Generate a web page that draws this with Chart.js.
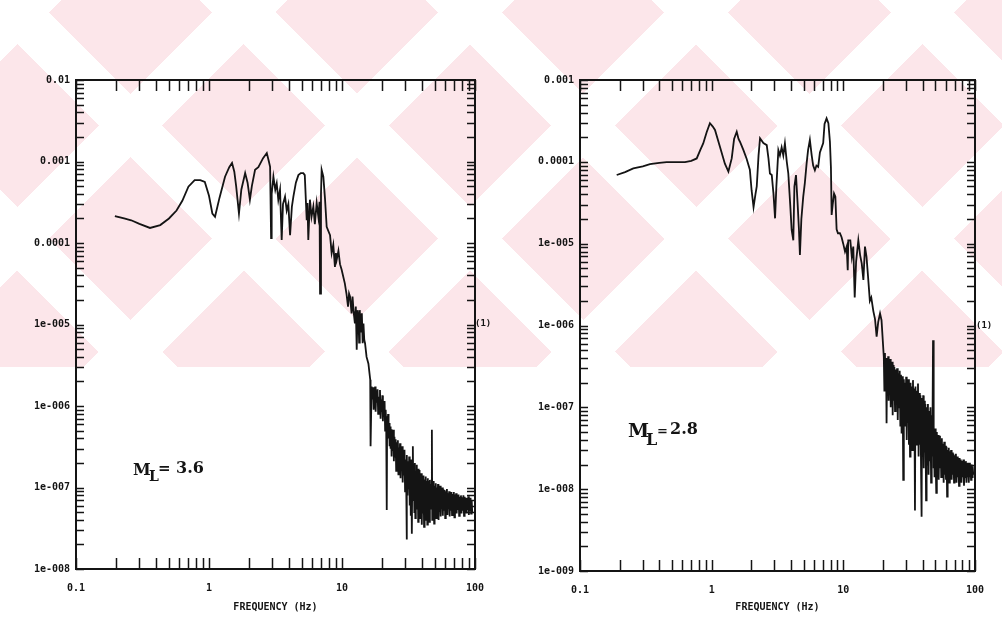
<!DOCTYPE html>
<html>
<head>
<meta charset="utf-8">
<script src="https://cdn.jsdelivr.net/npm/chart.js@4.4.1/dist/chart.umd.min.js"></script>
<style>
  body { margin: 0; background: #fff; width: 1002px; height: 621px; overflow: hidden; position: relative; }
  #mark { position: absolute; left: 0; top: 0; width: 1002px; height: 367px;
    background-color: #fce6ea;
    background-image:
      repeating-linear-gradient(45deg, rgba(255,255,255,0) 0 80.5px, #fff 80.5px 125.5px, rgba(255,255,255,0) 125.5px 160px),
      repeating-linear-gradient(-45deg, #fff 0 9.5px, rgba(255,255,255,0) 9.5px 124.5px, #fff 124.5px 160px); }
  canvas { position: absolute; top: 0; }
  #leftChart { left: 0; }
  #rightChart { left: 500px; }
  .t { position: absolute; font-family: "DejaVu Serif", serif; font-weight: bold; color: #141414; line-height: 1; white-space: nowrap; }
  .one { font-family: "DejaVu Sans Mono", monospace; font-size: 9px; }
</style>
</head>
<body>
<div id="mark"></div>
<canvas id="leftChart" width="500" height="621"></canvas>
<canvas id="rightChart" width="502" height="621"></canvas>

<span class="t one" style="left:475px;top:319px">(1)</span>
<span class="t one" style="left:976px;top:321px">(1)</span>

<span class="t" style="left:133px;top:462px;font-size:16px">M</span>
<span class="t" style="left:149px;top:469px;font-size:14px">L</span>
<span class="t" style="left:158px;top:461px;font-size:15px">=</span>
<span class="t" style="left:176px;top:460px;font-size:16px">3.6</span>

<span class="t" style="left:628px;top:421px;font-size:19px">M</span>
<span class="t" style="left:646px;top:432px;font-size:16px">L</span>
<span class="t" style="left:657px;top:424px;font-size:13px">=</span>
<span class="t" style="left:670px;top:421px;font-size:16px">2.8</span>

<script>
// tick labels
var xTickValues = [0.1, 1, 10, 100];
var xTickLabels = ['0.1', '1', '10', '100'];
var leftYValues = [1e-8, 1e-7, 1e-6, 1e-5, 1e-4, 1e-3, 1e-2];
var leftYLabels = ['1e-008', '1e-007', '1e-006', '1e-005', '0.0001', '0.001', '0.01'];
var rightYValues = [1e-9, 1e-8, 1e-7, 1e-6, 1e-5, 1e-4, 1e-3];
var rightYLabels = ['1e-009', '1e-008', '1e-007', '1e-006', '1e-005', '0.0001', '0.001'];

// spectrum, M_L = 3.6  [frequency Hz, amplitude]
var leftSpectrum = [
  [0.196,2.14e-4],[0.23,2.0e-4],[0.26,1.9e-4],[0.3,1.72e-4],[0.36,1.53e-4],[0.43,1.66e-4],[0.5,2.0e-4],
  [0.57,2.5e-4],[0.63,3.3e-4],[0.7,4.9e-4],[0.78,5.9e-4],[0.86,5.9e-4],[0.93,5.6e-4],[1.0,3.8e-4],
  [1.06,2.3e-4],[1.11,2.1e-4],[1.2,3.6e-4],[1.32,6.5e-4],[1.42,8.5e-4],[1.49,9.6e-4],[1.55,7.5e-4],
  [1.6,5.0e-4],[1.68,2.3e-4],[1.75,4.5e-4],[1.87,7.2e-4],[1.95,5.5e-4],[2.03,3.4e-4],[2.1,5.0e-4],
  [2.22,7.9e-4],[2.35,8.5e-4],[2.55,1.1e-3],[2.72,1.27e-3],[2.82,1.0e-3],[2.88,8.6e-4],[2.93,1.15e-4],
  [2.96,4.0e-4],[3.05,6.5e-4],[3.15,4.5e-4],[3.23,5.4e-4],[3.32,3.4e-4],[3.42,4.5e-4],[3.52,1.09e-4],
  [3.6,3.0e-4],[3.73,3.7e-4],[3.84,2.5e-4],[3.95,3.0e-4],[4.07,1.25e-4],[4.2,2.8e-4],[4.31,3.7e-4],
  [4.5,5.5e-4],[4.7,6.8e-4],[4.9,7.2e-4],[5.12,7.2e-4],[5.25,6.8e-4],[5.43,1.9e-4],[5.5,3.1e-4],
  [5.58,1.09e-4],[5.74,3.4e-4],[5.9,2.1e-4],[6.09,2.8e-4],[6.25,1.7e-4],[6.45,3.1e-4],[6.64,2.1e-4],
  [6.78,3.2e-4],[6.84,2.4e-5],[6.95,4.0e-4],[7.03,7.9e-4],[7.24,6.5e-4],[7.45,3.5e-4],[7.67,1.58e-4],
  [8.13,1.25e-4],[8.36,7.5e-5],[8.6,9.5e-5],[8.85,5.1e-5],[9.0,7.5e-5],[9.12,6.2e-5],[9.4,8.0e-5],
  [9.66,5.5e-5],[9.94,4.7e-5],[10.5,3.2e-5],[10.8,2.4e-5],[11.1,1.66e-5],[11.3,2.4e-5],[11.5,2.2e-5],
  [11.8,1.37e-5],[12.0,2.2e-5],[12.2,1.5e-5],[12.5,1.03e-5],[12.7,1.66e-5],[12.9,4.9e-6],[13.1,1.5e-5],
  [13.3,1.25e-5],[13.45,6.0e-6],[13.6,1.5e-5],[13.85,8.0e-6],[14.1,1.37e-5],[14.3,5.9e-6],[14.5,1.03e-5],
  [14.7,6.5e-6],[14.9,5.9e-6],[15.3,4.0e-6],[15.8,3.3e-6],[16.3,2.1e-6],[16.4,3.2e-7],[16.7,1.73e-6],
  [17.0,1.2e-6],[17.15,1.7e-6],[17.3,9.0e-7],[17.45,1.4e-6],[17.6,1.0e-6],[17.75,1.73e-6],[17.9,8.5e-7],
  [18.1,1.5e-6],[18.3,1.1e-6],[18.5,1.6e-6],[18.7,8.0e-7],[18.9,1.3e-6],[19.1,9.5e-7],[19.3,1.57e-6],
  [19.5,7.0e-7],[19.7,1.2e-6],[19.9,8.5e-7],[20.1,1.35e-6],[20.3,6.5e-7],[20.5,1.1e-6],[20.7,7.5e-7],
  [20.9,1.15e-6],[21.1,5.0e-7],[21.3,9.0e-7],[21.5,5.5e-7],[21.7,5.3e-8],[21.85,7.5e-7],[22.0,4.5e-7],
  [22.2,8.0e-7],[22.4,4.0e-7],[22.6,6.2e-7],[22.8,3.2e-7],[23.0,5.6e-7],[23.2,3.0e-7],[23.4,5.2e-7],
  [23.6,2.4e-7],[23.8,4.6e-7],[24.0,2.8e-7],[24.3,5.1e-7],[24.55,2.1e-7],[24.8,4.2e-7],[25.05,2.4e-7],
  [25.3,3.9e-7],[25.55,1.6e-7],[25.8,3.6e-7],[26.05,2.0e-7],[26.3,3.8e-7],[26.55,1.45e-7],[26.8,3.1e-7],
  [27.05,1.8e-7],[27.3,3.5e-7],[27.55,1.3e-7],[27.8,2.9e-7],[28.05,1.6e-7],[28.3,3.2e-7],[28.6,1.15e-7],
  [28.9,2.7e-7],[29.2,1.4e-7],[29.5,2.9e-7],[29.8,9.0e-8],[30.1,2.2e-7],[30.4,1.1e-7],[30.6,2.3e-8],
  [30.8,2.5e-7],[31.1,8.0e-8],[31.4,2.1e-7],[31.7,9.5e-8],[32.0,2.4e-7],[32.3,6.0e-8],[32.6,1.9e-7],
  [32.9,4.5e-8],[33.2,2.2e-7],[33.5,2.7e-8],[33.8,1.8e-7],[34.1,3.2e-7],[34.4,7.0e-8],[34.7,1.9e-7],
  [35.0,5.0e-8],[35.3,2.0e-7],[35.6,4.2e-8],[35.9,1.6e-7],[36.2,6.5e-8],[36.5,1.9e-7],[36.8,5.5e-8],
  [37.1,1.5e-7],[37.4,3.8e-8],[37.7,1.7e-7],[38.0,6.0e-8],[38.3,1.64e-7],[38.6,4.2e-8],[38.9,1.4e-7],
  [39.2,5.5e-8],[39.5,1.5e-7],[39.8,3.5e-8],[40.2,1.3e-7],[40.6,4.8e-8],[41.0,1.4e-7],[41.4,3.3e-8],
  [41.8,1.25e-7],[42.2,5.5e-8],[42.6,1.36e-7],[43.0,4.0e-8],[43.4,1.2e-7],[43.8,3.5e-8],[44.2,1.3e-7],
  [44.6,5.0e-8],[45.0,1.2e-7],[45.4,3.8e-8],[45.8,1.24e-7],[46.2,5.5e-8],[46.6,1.1e-7],[47.0,6.0e-8],
  [47.4,5.1e-7],[47.7,4.0e-8],[48.1,1.15e-7],[48.5,4.5e-8],[48.9,1.2e-7],[49.3,3.6e-8],[49.7,1.05e-7],
  [50.2,5.0e-8],[50.7,1.13e-7],[51.2,4.2e-8],[51.7,1.0e-7],[52.2,5.5e-8],[52.7,1.1e-7],[53.2,4.0e-8],
  [53.7,9.5e-8],[54.2,5.0e-8],[54.7,1.05e-7],[55.2,4.4e-8],[55.7,9.0e-8],[56.2,5.5e-8],[56.7,1.0e-7],
  [57.3,4.5e-8],[57.9,9.5e-8],[58.5,5.3e-8],[59.1,9.3e-8],[59.7,4.2e-8],[60.3,9.0e-8],[60.9,5.0e-8],
  [61.5,9.6e-8],[62.1,4.6e-8],[62.7,8.5e-8],[63.3,5.5e-8],[63.9,9.0e-8],[64.5,4.4e-8],[65.1,8.5e-8],
  [65.8,5.2e-8],[66.5,8.8e-8],[67.2,4.6e-8],[67.9,8.3e-8],[68.6,5.4e-8],[69.3,8.8e-8],[70.0,4.3e-8],
  [70.7,8.2e-8],[71.4,5.2e-8],[72.1,8.5e-8],[72.8,4.8e-8],[73.6,8.0e-8],[74.4,5.3e-8],[75.2,8.2e-8],
  [76.0,4.5e-8],[76.8,7.7e-8],[77.6,5.4e-8],[78.4,8.0e-8],[79.2,4.8e-8],[80.0,7.6e-8],[80.9,5.2e-8],
  [81.8,8.0e-8],[82.7,4.5e-8],[83.6,7.7e-8],[84.5,5.5e-8],[85.4,7.5e-8],[86.3,4.8e-8],[87.2,7.4e-8],
  [88.1,5.3e-8],[89.0,7.8e-8],[89.9,4.6e-8],[90.8,7.2e-8],[91.7,5.2e-8],[92.6,7.5e-8],[93.5,4.8e-8],
  [94.4,7.0e-8],[95.3,5.0e-8]
];

// spectrum, M_L = 2.8  [frequency Hz, amplitude]
var rightSpectrum = [
  [0.19,6.9e-5],[0.22,7.5e-5],[0.254,8.3e-5],[0.3,8.8e-5],[0.34,9.4e-5],[0.4,9.7e-5],[0.455,9.9e-5],
  [0.54,9.9e-5],[0.627,9.9e-5],[0.7,1.03e-4],[0.77,1.1e-4],[0.82,1.4e-4],[0.863,1.68e-4],[0.916,2.3e-4],
  [0.97,2.96e-4],[1.02,2.7e-4],[1.06,2.45e-4],[1.16,1.5e-4],[1.26,9.5e-5],[1.34,7.6e-5],[1.42,1.1e-4],
  [1.48,1.9e-4],[1.55,2.33e-4],[1.6,1.9e-4],[1.64,1.76e-4],[1.74,1.4e-4],[1.84,1.1e-4],[1.95,8.0e-5],
  [2.01,4.5e-5],[2.08,2.8e-5],[2.15,4.0e-5],[2.2,5.0e-5],[2.27,1.2e-4],[2.33,1.94e-4],[2.47,1.7e-4],
  [2.62,1.6e-4],[2.7,1.1e-4],[2.77,7.2e-5],[2.86,6.9e-5],[2.95,4.0e-5],[3.03,2.04e-5],[3.1,5.0e-5],
  [3.21,1.39e-4],[3.3,1.2e-4],[3.4,1.5e-4],[3.5,1.2e-4],[3.6,1.68e-4],[3.72,1.0e-4],[3.82,7.2e-5],
  [3.95,3.0e-5],[4.05,1.47e-5],[4.17,1.1e-5],[4.25,5.0e-5],[4.37,6.9e-5],[4.5,3.0e-5],[4.6,1.5e-5],
  [4.68,7.3e-6],[4.8,2.0e-5],[4.96,3.75e-5],[5.1,5.5e-5],[5.26,9.5e-5],[5.4,1.4e-4],[5.57,1.85e-4],
  [5.75,1.2e-4],[5.9,9.0e-5],[6.08,7.9e-5],[6.25,9.0e-5],[6.44,8.7e-5],[6.64,1.3e-4],[7.03,1.7e-4],
  [7.2,2.9e-4],[7.46,3.4e-4],[7.7,2.96e-4],[7.91,1.76e-4],[8.05,8.5e-5],[8.15,2.24e-5],[8.3,3.0e-5],
  [8.5,4.1e-5],[8.7,3.75e-5],[8.89,1.5e-5],[9.1,1.34e-5],[9.42,1.34e-5],[9.7,1.2e-5],[9.98,1.0e-5],
  [10.3,8.0e-6],[10.6,9.2e-6],[10.8,4.75e-6],[10.9,1.1e-5],[11.3,1.1e-5],[11.6,6.9e-6],[11.9,9.2e-6],
  [12.2,2.2e-6],[12.5,6.0e-6],[13.0,1.1e-5],[13.4,7.3e-6],[13.8,5.7e-6],[14.2,3.6e-6],[14.6,9.2e-6],
  [15.0,6.9e-6],[15.4,4.0e-6],[15.9,2.0e-6],[16.3,2.2e-6],[16.9,1.5e-6],[17.4,1.2e-6],[17.9,7.3e-7],
  [18.4,1.1e-6],[19.0,1.4e-6],[19.5,1.16e-6],[20.3,4.1e-7],
  [20.5,1.6e-7],[20.7,4.6e-7],[20.9,2.0e-7],[21.1,4.0e-7],[21.3,6.4e-8],[21.5,3.8e-7],[21.7,1.4e-7],
  [21.9,4.2e-7],[22.1,1.2e-7],[22.3,3.6e-7],[22.5,1.6e-7],[22.7,3.9e-7],[22.9,1.0e-7],[23.1,3.4e-7],
  [23.3,1.3e-7],[23.5,3.6e-7],[23.7,8.0e-8],[23.9,3.3e-7],[24.1,1.2e-7],[24.4,3.1e-7],[24.7,9.0e-8],
  [25.0,2.9e-7],[25.3,1.1e-7],[25.6,3.0e-7],[25.9,7.0e-8],[26.2,2.6e-7],[26.5,1.0e-7],[26.8,2.8e-7],
  [27.1,6.0e-8],[27.4,2.5e-7],[27.7,4.8e-8],[28.0,2.4e-7],[28.3,9.0e-8],[28.5,1.3e-8],[28.8,2.2e-7],
  [29.1,6.0e-8],[29.4,2.0e-7],[29.7,8.0e-8],[30.0,2.36e-7],[30.3,4.0e-8],[30.6,2.0e-7],[30.9,6.5e-8],
  [31.2,2.2e-7],[31.5,3.5e-8],[31.8,1.9e-7],[32.1,2.5e-8],[32.4,2.0e-7],[32.7,5.0e-8],[33.0,1.8e-7],
  [33.4,3.0e-8],[33.8,2.15e-7],[34.2,4.5e-8],[34.6,1.7e-7],[35.0,5.5e-9],[35.3,1.8e-7],[35.7,3.5e-8],
  [36.1,1.6e-7],[36.5,4.5e-8],[36.9,1.96e-7],[37.3,2.5e-8],[37.7,1.5e-7],[38.1,3.5e-8],[38.5,1.4e-7],
  [38.9,2.0e-8],[39.3,4.6e-9],[39.6,1.3e-7],[40.0,2.5e-8],[40.4,1.4e-7],[40.8,1.8e-8],[41.2,1.2e-7],
  [41.6,2.8e-8],[42.0,1.1e-7],[42.5,7.3e-9],[42.9,1.0e-7],[43.4,2.0e-8],[43.9,1.1e-7],[44.4,1.5e-8],
  [44.9,9.0e-8],[45.4,2.2e-8],[45.9,1.0e-7],[46.4,1.2e-8],[46.9,8.0e-8],[47.4,2.5e-8],[48.0,6.6e-7],
  [48.3,1.8e-8],[48.8,6.0e-8],[49.3,1.4e-8],[49.8,5.5e-8],[50.3,2.0e-8],[50.8,9.0e-9],[51.3,5.0e-8],
  [51.8,1.6e-8],[52.4,4.6e-8],[53.0,1.3e-8],[53.6,4.5e-8],[54.2,1.8e-8],[54.8,4.0e-8],[55.4,1.4e-8],
  [56.0,4.2e-8],[56.6,1.7e-8],[57.2,3.6e-8],[57.8,1.2e-8],[58.4,3.8e-8],[59.0,1.5e-8],[59.6,3.4e-8],
  [60.2,1.3e-8],[60.8,3.3e-8],[61.4,8.1e-9],[62.0,3.0e-8],[62.6,1.5e-8],[63.2,3.2e-8],[63.8,1.2e-8],
  [64.4,2.9e-8],[65.1,1.5e-8],[65.8,3.0e-8],[66.5,1.3e-8],[67.2,2.8e-8],[67.9,1.5e-8],[68.6,2.7e-8],
  [69.3,1.2e-8],[70.0,2.6e-8],[70.8,1.4e-8],[71.6,2.7e-8],[72.4,1.2e-8],[73.2,2.5e-8],[74.0,1.4e-8],
  [74.8,2.4e-8],[75.6,1.1e-8],[76.4,2.4e-8],[77.2,1.4e-8],[78.0,2.3e-8],[78.9,1.2e-8],[79.8,2.2e-8],
  [80.7,1.4e-8],[81.6,2.3e-8],[82.5,1.1e-8],[83.4,2.1e-8],[84.3,1.4e-8],[85.2,2.2e-8],[86.1,1.2e-8],
  [87.0,2.1e-8],[87.9,1.4e-8],[88.8,2.0e-8],[89.7,1.2e-8],[90.6,2.1e-8],[91.5,1.4e-8],[92.4,2.0e-8],
  [93.3,1.3e-8],[94.2,2.0e-8],[95.1,1.4e-8],[96.0,1.9e-8],[97.0,1.5e-8]
];

var INK = '#141414';
var LABEL_FONT = { family: 'DejaVu Sans Mono', weight: 'bold', size: 10 };

// all 1..9 x 10^n positions between min and max
function logSteps(min, max) {
  var out = [];
  for (var e = Math.round(Math.log10(min)); e < Math.round(Math.log10(max)); e++) {
    for (var k = 1; k <= 9; k++) out.push(k * Math.pow(10, e));
  }
  out.push(max);
  return out;
}

// box round the plot, ticks pointing inward on all four sides
var frameTicks = {
  id: 'frameTicks',
  afterDatasetsDraw: function (chart) {
    var ctx = chart.ctx, a = chart.chartArea, sx = chart.scales.x, sy = chart.scales.y;
    ctx.save();
    ctx.strokeStyle = INK;
    ctx.lineWidth = 1.5;
    ctx.beginPath();
    logSteps(sx.min, sx.max).forEach(function (v) {
      var px = Math.round(sx.getPixelForValue(v)) + 0.5;
      ctx.moveTo(px, a.bottom); ctx.lineTo(px, a.bottom - 11);
      ctx.moveTo(px, a.top); ctx.lineTo(px, a.top + 11);
    });
    logSteps(sy.min, sy.max).forEach(function (v) {
      var py = Math.round(sy.getPixelForValue(v)) + 0.5;
      ctx.moveTo(a.left, py); ctx.lineTo(a.left + 8, py);
      ctx.moveTo(a.right, py); ctx.lineTo(a.right - 8, py);
    });
    ctx.stroke();
    ctx.lineWidth = 2;
    ctx.strokeRect(a.left, a.top, a.right - a.left, a.bottom - a.top);
    ctx.restore();
  }
};

function makeChart(id, spectrum, yMin, yMax, yValues, yLabels, yWidth, xHeight, padRight) {
  return new Chart(document.getElementById(id), {
    type: 'line',
    data: {
      datasets: [{
        data: spectrum.map(function (p) { return { x: p[0], y: p[1] }; }),
        borderColor: INK,
        borderWidth: 1.8,
        pointRadius: 0,
        tension: 0
      }]
    },
    options: {
      responsive: false,
      animation: false,
      layout: { padding: { top: 80, right: padRight, left: 0, bottom: 0 } },
      plugins: { legend: { display: false }, tooltip: { enabled: false } },
      scales: {
        x: {
          type: 'logarithmic', min: 0.1, max: 100,
          afterBuildTicks: function (s) { s.ticks = xTickValues.map(function (v) { return { value: v }; }); },
          afterFit: function (s) { s.height = xHeight; },
          grid: { display: false, drawTicks: false },
          border: { display: false },
          ticks: {
            autoSkip: false, maxRotation: 0, padding: 13, color: INK, font: LABEL_FONT,
            callback: function (v, i) { return xTickLabels[i]; }
          },
          title: {
            display: true, text: 'FREQUENCY (Hz)', color: INK, font: LABEL_FONT,
            padding: { top: 0, bottom: 8 }
          }
        },
        y: {
          type: 'logarithmic', min: yMin, max: yMax,
          afterBuildTicks: function (s) { s.ticks = yValues.map(function (v) { return { value: v }; }); },
          afterFit: function (s) { s.width = yWidth; },
          grid: { display: false, drawTicks: false },
          border: { display: false },
          ticks: {
            autoSkip: false, padding: 6, color: INK, font: LABEL_FONT,
            callback: function (v, i) { return yLabels[i]; }
          }
        }
      }
    },
    plugins: [frameTicks]
  });
}

makeChart('leftChart', leftSpectrum, 1e-8, 1e-2, leftYValues, leftYLabels, 76, 52, 25);
makeChart('rightChart', rightSpectrum, 1e-9, 1e-3, rightYValues, rightYLabels, 80, 50, 27);
</script>
</body>
</html>
